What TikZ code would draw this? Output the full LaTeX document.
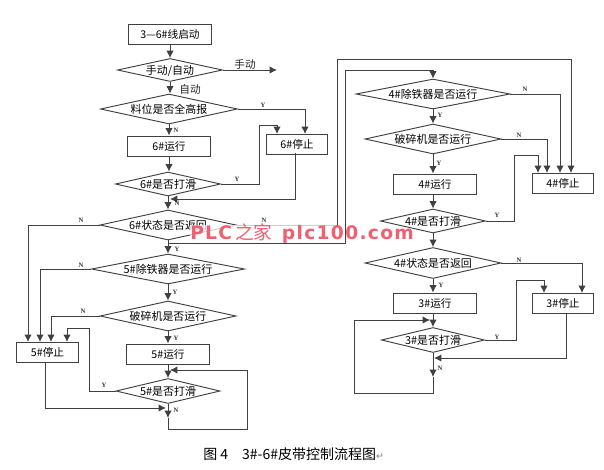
\documentclass[tikz,border=0pt]{standalone}
\usepackage{fontspec}
\setmainfont{Noto Sans CJK SC}
\newfontfamily\ynfont{Liberation Serif}
\newfontfamily\symfont{DejaVu Sans}
\newfontfamily\wmfont[LetterSpace=7]{DejaVu Sans}
\usetikzlibrary{shapes.geometric,arrows.meta}
\definecolor{lin}{gray}{0.25}
\definecolor{wmred}{RGB}{240,96,112}
\newcommand{\dtxt}[1]{\raisebox{-0.38em}[0pt][0pt]{\makebox[0pt]{#1}}}
\tikzset{
  >={Latex[length=5.5pt,width=5.5pt]},
  box/.style={draw=lin, line width=0.75pt, minimum width=62pt, minimum height=15pt, inner sep=0pt, font=\fontsize{8}{9}\selectfont},
  smallbox/.style={box, minimum width=46pt},
  dia/.style n args={2}{diamond, draw=lin, line width=0.7pt, inner sep=0pt, aspect=4.5, minimum width=#1*0.75pt, minimum height=#2*0.75pt, font=\fontsize{8.2}{9}\selectfont},
  arr/.style={->, draw=lin, line width=0.7pt},
  yn/.style={font=\fontsize{5}{5}\selectfont\ynfont\bfseries, inner sep=0pt, text=black!80},
  txt/.style={font=\fontsize{8}{9}\selectfont, inner sep=0pt, text=black!85}
}
\begin{document}
\begin{tikzpicture}[x=0.75pt, y=-0.75pt]
\useasboundingbox[fill=white] (0,0) rectangle (604,469);
\node[box] (st) at (170,34) {3—6\#线启动};
\node[dia={105}{23}] (dMan) at (170,70) {\dtxt{手动/自动}};
\node[dia={137}{30}] (dHigh) at (169,109) {\dtxt{料位是否全高报}};
\node[box] (run6) at (169,146) {6\#运行};
\node[smallbox] (stop6) at (297,144) {6\#停止};
\node[dia={105}{24}] (slip6) at (168,184) {\dtxt{6\#是否打滑}};
\node[dia={136}{30}] (state6) at (168,225) {\dtxt{6\#状态是否返回}};
\node[dia={153}{30}] (iron5) at (168,269) {\dtxt{5\#除铁器是否运行}};
\node[dia={136}{30}] (crush5) at (168,316) {\dtxt{破碎机是否运行}};
\node[smallbox] (stop5) at (47.5,352) {5\#停止};
\node[box] (run5) at (168,354) {5\#运行};
\node[dia={104}{25}] (slip5) at (168,391) {\dtxt{5\#是否打滑}};
\node[dia={154}{30}] (iron4) at (433,94) {\dtxt{4\#除铁器是否运行}};
\node[dia={136}{30}] (crush4) at (433,139) {\dtxt{破碎机是否运行}};
\node[box] (run4) at (435,184) {4\#运行};
\node[smallbox] (stop4) at (563,183) {4\#停止};
\node[dia={105}{24}] (slip4) at (433,221) {\dtxt{4\#是否打滑}};
\node[dia={136}{31}] (state4) at (433,263) {\dtxt{4\#状态是否返回}};
\node[box] (run3) at (435,303) {3\#运行};
\node[smallbox] (stop3) at (563,303) {3\#停止};
\node[dia={103}{25}] (slip3) at (433,340) {\dtxt{3\#是否打滑}};
\coordinate (manEnd) at (277,70);
\coordinate (j6) at (170,199);
\coordinate (j5) at (166,408);
\coordinate (c5) at (168,418);
\coordinate (r5) at (170,370);
\coordinate (jY) at (168,243);
\coordinate (top4) at (433,70);
\coordinate (j3) at (434,358);
\coordinate (c3) at (433,377);
\coordinate (r3) at (430,320);
\draw[arr] (st) -- (dMan);
\draw[arr] (dMan) -- (manEnd);
\draw[arr] (dMan.south) -- (dMan.south |- dHigh.north);
\draw[arr] (dHigh.east) -| (305,134);
\draw[arr] (dHigh.south) -- (dHigh.south |- run6.north);
\draw[arr] (run6.south) -- (run6.south |- slip6.north);
\draw[arr] (slip6.east) -- (259,184) -- (259,125) -- (277,125) -- (277,134);
\draw[arr] (295,153) |- (j6);
\draw[arr] (slip6) -- (state6);
\draw[arr] (state6) -- (iron5);
\draw[arr] (iron5) -- (crush5);
\draw[arr] (crush5) -- (run5);
\draw[arr] (run5) -- (slip5);
\draw[arr] (state6.west) -| (28,342);
\draw[arr] (iron5.west) -| (40,342);
\draw[arr] (crush5.west) -| (51,342);
\draw[arr] (slip5.west) -- (89,391) -- (89,328) -- (67,328) -- (67,342);
\draw[arr] (45,362) |- (j5);
\draw[arr] (slip5) -- (c5);
\draw[arr] (c5) -- (168,429) -- (247,429) -- (247,370) -- (r5);
\draw[arr] (state6.east) -- (337,225) -- (337,59) -- (571,59) -- (571,173);
\draw[draw=lin, line width=0.7pt] (jY) -- (345,243) -- (345,70) -- (top4);
\draw[arr] (top4) -- (iron4);
\draw[arr] (iron4) -- (crush4);
\draw[arr] (crush4) -- (crush4 |- run4.north);
\draw[arr] (crush4 |- run4.south) -- (slip4);
\draw[arr] (slip4) -- (state4);
\draw[arr] (iron4.east) -| (560,173);
\draw[arr] (crush4.east) -| (547,173);
\draw[arr] (slip4.east) -- (514,221) -- (514,155) -- (538,155) -- (538,173);
\draw[arr] (state4.east) -| (582,293);
\draw[arr] (state4) -- (state4 |- run3.north);
\draw[arr] (state4 |- run3.south) -- (slip3);
\draw[arr] (slip3.east) -- (516,340) -- (516,280) -- (544,280) -- (544,293);
\draw[arr] (566,313) |- (j3);
\draw[arr] (slip3) -- (c3);
\draw[arr] (c3) -- (433,393) -- (354,393) -- (354,320) -- (r3);
\node[txt] (lMan) at (245,64) {手动};
\node[txt] (lAuto) at (190,89) {自动};
\node[yn] (y1) at (263,105) {Y};
\node[yn] (n1) at (176,130) {N};
\node[yn] (y2) at (237,179) {Y};
\node[yn] (n2) at (177,203) {N};
\node[yn] (n3) at (81,220) {N};
\node[yn] (n4) at (264,220) {N};
\node[yn] (y3) at (177,249) {Y};
\node[yn] (n5) at (81,265) {N};
\node[yn] (y4) at (175,292) {Y};
\node[yn] (n6) at (83,311) {N};
\node[yn] (y5) at (176,338) {Y};
\node[yn] (y6) at (104,385) {Y};
\node[yn] (n7) at (176,410) {N};
\node[yn] (n8) at (525,89) {N};
\node[yn] (y7) at (440,115) {Y};
\node[yn] (n9) at (519,135) {N};
\node[yn] (y8) at (439,163) {Y};
\node[yn] (y9) at (497,215) {Y};
\node[yn] (n10) at (519,260) {N};
\node[yn] (y10) at (441,285) {Y};
\node[yn] (y11) at (497,337) {Y};
\node[yn] (n11) at (440,368) {N};
\node[fill=white, fill opacity=0.75, inner sep=0pt, minimum width=110pt, minimum height=13pt] (wmbox) at (263,234) {};
\node[anchor=west, inner sep=0pt, text=wmred] (wm) at (190,234) {\fontsize{14}{14}\selectfont{\wmfont\bfseries PLC}\,之家\hspace{7pt}{\wmfont\bfseries plc100.com}};
\node[inner sep=0pt, anchor=west, font=\fontsize{10.5}{12}\selectfont] (cap) at (203,454) {图 4\quad 3\#-6\#皮带控制流程图\textcolor{black!50}{\symfont\fontsize{7}{7}\selectfont ↵}};
\end{tikzpicture}
\end{document}
